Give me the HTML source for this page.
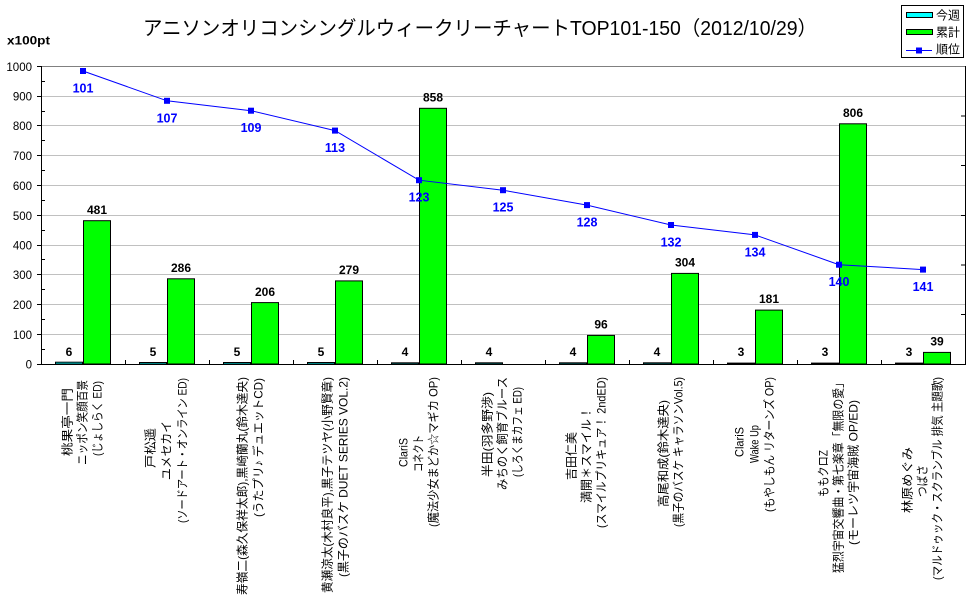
<!DOCTYPE html>
<html>
<head>
<meta charset="utf-8">
<style>
  html,body{margin:0;padding:0;background:#fff;}
  svg{display:block;}
  text{font-family:"Liberation Sans","Noto Sans CJK JP",sans-serif;}
</style>
</head>
<body>
<svg width="970" height="604" viewBox="0 0 970 604" xmlns="http://www.w3.org/2000/svg">
  <rect x="0" y="0" width="970" height="604" fill="#fff"/>

  <!-- Title -->
  <text x="143" y="35" font-size="20" textLength="674" lengthAdjust="spacingAndGlyphs" fill="#000">アニソンオリコンシングルウィークリーチャートTOP101-150（2012/10/29）</text>

  <!-- y unit -->
  <text x="7" y="44.5" font-size="12" font-weight="bold" textLength="43" lengthAdjust="spacingAndGlyphs">x100pt</text>

  <!-- Legend -->
  <rect x="901.5" y="5.5" width="62" height="52" fill="#fff" stroke="#000" stroke-width="1"/>
  <rect x="906.5" y="12.5" width="26" height="5" fill="#00ffff" stroke="#000" stroke-width="1"/>
  <text x="936" y="19.5" font-size="12">今週</text>
  <rect x="906.5" y="29.5" width="26" height="5" fill="#00ff00" stroke="#000" stroke-width="1"/>
  <text x="936" y="36.5" font-size="12">累計</text>
  <line x1="906" y1="50.5" x2="932" y2="50.5" stroke="#0000ff" stroke-width="1"/>
  <rect x="916" y="47.5" width="6" height="6" fill="#0000ff"/>
  <text x="936" y="53.5" font-size="12">順位</text>

  <!-- Gridlines -->
  <g stroke="#c0c0c0" stroke-width="1">
    <line x1="41" y1="96.5" x2="965" y2="96.5"/>
    <line x1="41" y1="125.5" x2="965" y2="125.5"/>
    <line x1="41" y1="155.5" x2="965" y2="155.5"/>
    <line x1="41" y1="185.5" x2="965" y2="185.5"/>
    <line x1="41" y1="215.5" x2="965" y2="215.5"/>
    <line x1="41" y1="245.5" x2="965" y2="245.5"/>
    <line x1="41" y1="274.5" x2="965" y2="274.5"/>
    <line x1="41" y1="304.5" x2="965" y2="304.5"/>
    <line x1="41" y1="334.5" x2="965" y2="334.5"/>
  </g>
  <!-- top border gray, right border black -->
  <line x1="41" y1="66.5" x2="965" y2="66.5" stroke="#808080" stroke-width="1"/>
  <line x1="965.5" y1="66" x2="965.5" y2="365" stroke="#000" stroke-width="1"/>

  <!-- Y labels -->
  <g font-size="11.5" text-anchor="end" fill="#000">
    <text x="32" y="71">1000</text>
    <text x="32" y="100.5">900</text>
    <text x="32" y="130">800</text>
    <text x="32" y="160">700</text>
    <text x="32" y="190">600</text>
    <text x="32" y="220">500</text>
    <text x="32" y="249.5">400</text>
    <text x="32" y="279">300</text>
    <text x="32" y="309">200</text>
    <text x="32" y="339">100</text>
    <text x="32" y="368.5">0</text>
  </g>

  <!-- Bars: cyan (今週) -->
  <g fill="#00ffff" stroke="#000" stroke-width="1">
    <rect x="55.5" y="362.2" width="27" height="1.8"/>
    <rect x="139.5" y="362.5" width="27" height="1.5"/>
    <rect x="223.5" y="362.5" width="27" height="1.5"/>
    <rect x="307.5" y="362.5" width="27" height="1.5"/>
    <rect x="391.5" y="362.8" width="27" height="1.2"/>
    <rect x="475.5" y="362.8" width="27" height="1.2"/>
    <rect x="559.5" y="362.8" width="27" height="1.2"/>
    <rect x="643.5" y="362.8" width="27" height="1.2"/>
    <rect x="727.5" y="363.1" width="27" height="0.9"/>
    <rect x="811.5" y="363.1" width="27" height="0.9"/>
    <rect x="895.5" y="363.1" width="27" height="0.9"/>
  </g>
  <!-- Bars: green (累計) -->
  <g fill="#00ff00" stroke="#000" stroke-width="1">
    <rect x="83.5" y="220.7" width="27" height="143.3"/>
    <rect x="167.5" y="278.8" width="27" height="85.2"/>
    <rect x="251.5" y="302.6" width="27" height="61.4"/>
    <rect x="335.5" y="280.9" width="27" height="83.1"/>
    <rect x="419.5" y="108.3" width="27" height="255.7"/>
    <rect x="587.5" y="335.4" width="27" height="28.6"/>
    <rect x="671.5" y="273.4" width="27" height="90.6"/>
    <rect x="755.5" y="310.1" width="27" height="53.9"/>
    <rect x="839.5" y="123.8" width="27" height="240.2"/>
    <rect x="923.5" y="352.4" width="27" height="11.6"/>
  </g>

  <!-- Axes -->
  <line x1="41.5" y1="66" x2="41.5" y2="365" stroke="#000" stroke-width="1"/>
  <line x1="41" y1="364.5" x2="966" y2="364.5" stroke="#000" stroke-width="1"/>
  <!-- Y major ticks (outside) -->
  <g stroke="#000" stroke-width="1">
    <line x1="37" y1="66.5" x2="41" y2="66.5"/>
    <line x1="37" y1="96.5" x2="41" y2="96.5"/>
    <line x1="37" y1="125.5" x2="41" y2="125.5"/>
    <line x1="37" y1="155.5" x2="41" y2="155.5"/>
    <line x1="37" y1="185.5" x2="41" y2="185.5"/>
    <line x1="37" y1="215.5" x2="41" y2="215.5"/>
    <line x1="37" y1="245.5" x2="41" y2="245.5"/>
    <line x1="37" y1="274.5" x2="41" y2="274.5"/>
    <line x1="37" y1="304.5" x2="41" y2="304.5"/>
    <line x1="37" y1="334.5" x2="41" y2="334.5"/>
    <line x1="37" y1="364.5" x2="41" y2="364.5"/>
    <!-- minor ticks inside -->
    <line x1="42" y1="81.5" x2="45" y2="81.5"/>
    <line x1="42" y1="111.5" x2="45" y2="111.5"/>
    <line x1="42" y1="140.5" x2="45" y2="140.5"/>
    <line x1="42" y1="170.5" x2="45" y2="170.5"/>
    <line x1="42" y1="200.5" x2="45" y2="200.5"/>
    <line x1="42" y1="230.5" x2="45" y2="230.5"/>
    <line x1="42" y1="259.5" x2="45" y2="259.5"/>
    <line x1="42" y1="289.5" x2="45" y2="289.5"/>
    <line x1="42" y1="319.5" x2="45" y2="319.5"/>
    <line x1="42" y1="349.5" x2="45" y2="349.5"/>
    <!-- x category ticks (inside, upward) -->
    <line x1="125.5" y1="360" x2="125.5" y2="364"/>
    <line x1="209.5" y1="360" x2="209.5" y2="364"/>
    <line x1="293.5" y1="360" x2="293.5" y2="364"/>
    <line x1="377.5" y1="360" x2="377.5" y2="364"/>
    <line x1="461.5" y1="360" x2="461.5" y2="364"/>
    <line x1="545.5" y1="360" x2="545.5" y2="364"/>
    <line x1="629.5" y1="360" x2="629.5" y2="364"/>
    <line x1="713.5" y1="360" x2="713.5" y2="364"/>
    <line x1="797.5" y1="360" x2="797.5" y2="364"/>
    <line x1="881.5" y1="360" x2="881.5" y2="364"/>
    <!-- secondary axis ticks (right, inside) -->
    <line x1="961" y1="116" x2="965" y2="116"/>
    <line x1="961" y1="165.5" x2="965" y2="165.5"/>
    <line x1="961" y1="215.5" x2="965" y2="215.5"/>
    <line x1="961" y1="265" x2="965" y2="265"/>
    <line x1="961" y1="314.5" x2="965" y2="314.5"/>
  </g>

  <!-- Rank line -->
  <polyline fill="none" stroke="#0000ff" stroke-width="1"
    points="83,71 167,100.8 251,110.7 335,130.6 419,180.2 503,190.2 587,205.1 671,225 755,234.9 839,264.7 923,269.6"/>
  <g fill="#0000ff">
    <rect x="80" y="68" width="6" height="6"/>
    <rect x="164" y="97.8" width="6" height="6"/>
    <rect x="248" y="107.7" width="6" height="6"/>
    <rect x="332" y="127.6" width="6" height="6"/>
    <rect x="416" y="177.2" width="6" height="6"/>
    <rect x="500" y="187.2" width="6" height="6"/>
    <rect x="584" y="202.1" width="6" height="6"/>
    <rect x="668" y="222" width="6" height="6"/>
    <rect x="752" y="231.9" width="6" height="6"/>
    <rect x="836" y="261.7" width="6" height="6"/>
    <rect x="920" y="266.6" width="6" height="6"/>
  </g>

  <!-- Rank labels -->
  <g fill="#0000ff" font-size="12.5" font-weight="bold" text-anchor="middle">
    <text x="83" y="92.5">101</text>
    <text x="167" y="122.3">107</text>
    <text x="251" y="132.2">109</text>
    <text x="335" y="152.1">113</text>
    <text x="419" y="201.7">123</text>
    <text x="503" y="211.7">125</text>
    <text x="587" y="226.6">128</text>
    <text x="671" y="246.5">132</text>
    <text x="755" y="256.4">134</text>
    <text x="839" y="286.2">140</text>
    <text x="923" y="291.1">141</text>
  </g>

  <!-- Bar value labels -->
  <g fill="#000" font-size="12" font-weight="bold" text-anchor="middle">
    <text x="69" y="356">6</text>
    <text x="153" y="356">5</text>
    <text x="237" y="356">5</text>
    <text x="321" y="356">5</text>
    <text x="405" y="356">4</text>
    <text x="489" y="356">4</text>
    <text x="573" y="356">4</text>
    <text x="657" y="356">4</text>
    <text x="741" y="356">3</text>
    <text x="825" y="356">3</text>
    <text x="909" y="356">3</text>

    <text x="97" y="214">481</text>
    <text x="181" y="272">286</text>
    <text x="265" y="296">206</text>
    <text x="349" y="274">279</text>
    <text x="433" y="101.5">858</text>
    <text x="601" y="328.5">96</text>
    <text x="685" y="266.5">304</text>
    <text x="769" y="303">181</text>
    <text x="853" y="117">806</text>
    <text x="937" y="345.5">39</text>
  </g>

  <!-- Category labels (rotated -90) -->
  <g fill="#000" font-size="12">
    <!-- Cat1 -->
    <text transform="translate(71.5,456) rotate(-90)" textLength="68" lengthAdjust="spacingAndGlyphs">桃果亭一門</text>
    <text transform="translate(86.5,465) rotate(-90)" textLength="85" lengthAdjust="spacingAndGlyphs">ニッポン笑顔百景</text>
    <text transform="translate(101.5,456) rotate(-90)" textLength="75" lengthAdjust="spacingAndGlyphs">(じょしらく ED)</text>
    <!-- Cat2 -->
    <text transform="translate(154.5,468) rotate(-90)" textLength="40" lengthAdjust="spacingAndGlyphs">戸松遥</text>
    <text transform="translate(170.5,480) rotate(-90)" textLength="59" lengthAdjust="spacingAndGlyphs">ユメセカイ</text>
    <text transform="translate(186.5,523) rotate(-90)" textLength="145" lengthAdjust="spacingAndGlyphs">(ソードアート・オンライン ED)</text>
    <!-- Cat3 -->
    <text transform="translate(246.5,595) rotate(-90)" textLength="218" lengthAdjust="spacingAndGlyphs">寿嶺二(森久保祥太郎),黒崎蘭丸(鈴木達央)</text>
    <text transform="translate(262.5,517) rotate(-90)" textLength="139" lengthAdjust="spacingAndGlyphs">(うたプリ♪ デュエットCD)</text>
    <!-- Cat4 -->
    <text transform="translate(331.5,593) rotate(-90)" textLength="216" lengthAdjust="spacingAndGlyphs">黄瀬涼太(木村良平),黒子テツヤ(小野賢章)</text>
    <text transform="translate(347.5,577) rotate(-90)" textLength="200" lengthAdjust="spacingAndGlyphs">(黒子のバスケ DUET SERIES VOL.2)</text>
    <!-- Cat5 -->
    <text transform="translate(407.5,467) rotate(-90)" textLength="29" lengthAdjust="spacingAndGlyphs">ClariS</text>
    <text transform="translate(422.5,472) rotate(-90)" textLength="37" lengthAdjust="spacingAndGlyphs">コネクト</text>
    <text transform="translate(437.5,527) rotate(-90)" textLength="150" lengthAdjust="spacingAndGlyphs">(魔法少女まどか☆マギカ OP)</text>
    <!-- Cat6 -->
    <text transform="translate(491.5,477) rotate(-90)" textLength="85" lengthAdjust="spacingAndGlyphs">半田(羽多野渉)</text>
    <text transform="translate(506.5,490) rotate(-90)" textLength="113" lengthAdjust="spacingAndGlyphs">みちのく飼育ブルース</text>
    <text transform="translate(521.5,477) rotate(-90)" textLength="90" lengthAdjust="spacingAndGlyphs">(しろくまカフェ ED)</text>
    <!-- Cat7 -->
    <text transform="translate(575.5,480) rotate(-90)" textLength="48" lengthAdjust="spacingAndGlyphs">吉田仁美</text>
    <text transform="translate(590.5,503) rotate(-90)" textLength="96" lengthAdjust="spacingAndGlyphs">満開＊スマイル！</text>
    <text transform="translate(605.5,528) rotate(-90)" textLength="151" lengthAdjust="spacingAndGlyphs">(スマイルプリキュア！ 2ndED)</text>
    <!-- Cat8 -->
    <text transform="translate(667.5,507) rotate(-90)" textLength="107" lengthAdjust="spacingAndGlyphs">高尾和成(鈴木達央)</text>
    <text transform="translate(682.5,527) rotate(-90)" textLength="150" lengthAdjust="spacingAndGlyphs">(黒子のバスケ キャラソンVol.5)</text>
    <!-- Cat9 -->
    <text transform="translate(743.5,457) rotate(-90)" textLength="30" lengthAdjust="spacingAndGlyphs">ClariS</text>
    <text transform="translate(758.5,463) rotate(-90)" textLength="38" lengthAdjust="spacingAndGlyphs">Wake Up</text>
    <text transform="translate(773.5,512) rotate(-90)" textLength="135" lengthAdjust="spacingAndGlyphs">(もやしもん リターンズ OP)</text>
    <!-- Cat10 -->
    <text transform="translate(827.5,497) rotate(-90)" textLength="47" lengthAdjust="spacingAndGlyphs">ももクロZ</text>
    <text transform="translate(842.5,573) rotate(-90)" textLength="196" lengthAdjust="spacingAndGlyphs">猛烈宇宙交響曲・第七楽章「無限の愛」</text>
    <text transform="translate(857.5,545) rotate(-90)" textLength="145" lengthAdjust="spacingAndGlyphs">(モーレツ宇宙海賊 OP/ED)</text>
    <!-- Cat11 -->
    <text transform="translate(911.5,513) rotate(-90)" textLength="66" lengthAdjust="spacingAndGlyphs">林原めぐみ</text>
    <text transform="translate(926.5,497) rotate(-90)" textLength="32" lengthAdjust="spacingAndGlyphs">つばさ</text>
    <text transform="translate(941.5,580) rotate(-90)" textLength="203" lengthAdjust="spacingAndGlyphs">(マルドゥック・スクランブル 排気 主題歌)</text>
  </g>
</svg>
</body>
</html>
